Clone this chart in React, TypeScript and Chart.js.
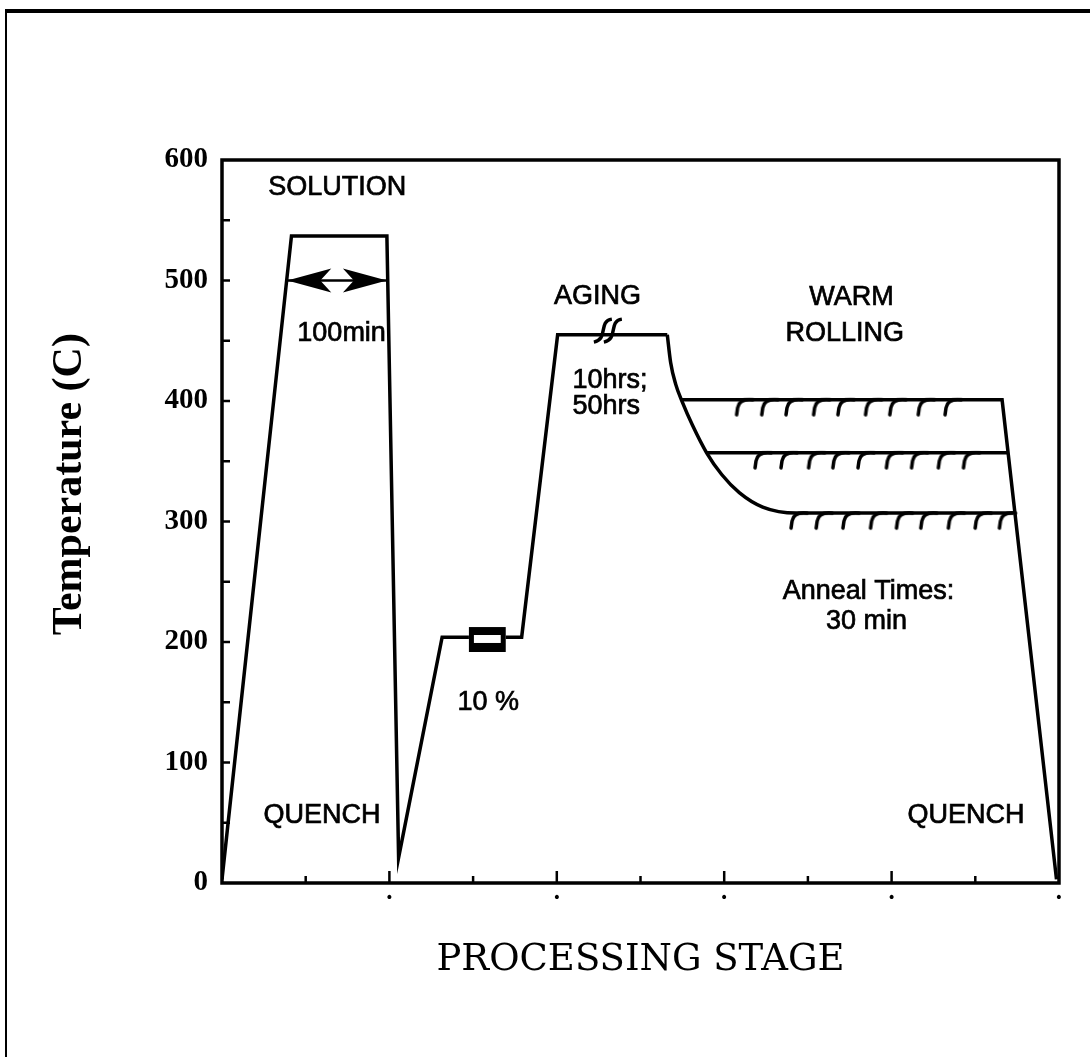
import React, { useEffect, useRef } from 'react';
import { Chart, registerables } from 'chart.js';

Chart.register(...registerables);

// ---- Data (x = processing stage units, y = temperature °C) ----
const solutionPathX = [0.0, 0.83, 1.97, 2.11, 2.63, 2.95];
const solutionPathY = [3, 537, 537, 21, 204, 204];

const agingPathX = [3.39, 3.58, 4.01, 5.32];
const agingPathY = [204, 204, 455, 455];

const coolingCurveX = [5.32, 5.36, 5.42, 5.5, 5.62, 5.79, 5.97, 6.18, 6.46, 6.86, 9.45];
const coolingCurveY = [455, 432, 414, 399, 380, 357, 339, 324, 312, 307, 307];

const rolling400X = [5.49, 9.32, 9.97];
const rolling400Y = [401, 401, 3];

const rolling355X = [5.79, 9.39];
const rolling355Y = [357, 357];

const hooks400X = [6.22, 6.52, 6.81, 7.14, 7.43, 7.76, 8.05, 8.39, 8.71];
const hooks355X = [6.44, 6.75, 7.08, 7.37, 7.67, 8.01, 8.31, 8.63, 8.93];
const hooks307X = [6.87, 7.17, 7.49, 7.82, 8.13, 8.42, 8.75, 9.07, 9.36];
const hookLevels = [401, 357, 307];

const solutionArrowX = [0.78, 1.97];
const solutionArrowY = 500;

const deformBoxX = [2.95, 3.39];
const deformBoxY = [191.7, 212.4];
const deformBoxSlotY = [199.2, 205.8];

const agingBreakX = 4.61;
const agingBreakY = 458;

const yTickLabels = [0, 100, 200, 300, 400, 500, 600];
const xDotTicks = [2, 4, 6, 8, 10];

const labelTexts = ['SOLUTION', '100min', 'AGING', '10hrs;', '50hrs', 'WARM', 'ROLLING', 'Anneal Times:', '30 min', '10 %', 'QUENCH', 'QUENCH'];
const labelX = [1.376, 0.9, 4.486, 4.187, 4.187, 7.52, 7.44, 6.7, 7.7, 3.18, 1.196, 8.89];
const labelY = [577, 455.6, 487, 416.6, 395, 486, 455.6, 242, 217, 150, 56, 56];
const labelAlign: CanvasTextAlign[] = ['center', 'left', 'center', 'left', 'left', 'center', 'center', 'left', 'center', 'center', 'center', 'center'];

const xTitle = 'PROCESSING STAGE';
const yTitle = 'Temperature (C)';
const yTitleCenterValue = 331;

const pts = (xs: number[], ys: number[]) => xs.map((x, i) => ({ x, y: ys[i] }));

function makeHookCanvas() {
  const c = document.createElement('canvas');
  c.width = 28;
  c.height = 40;
  const g = c.getContext('2d')!;
  g.strokeStyle = '#000';
  g.lineWidth = 3.5;
  g.lineCap = 'round';
  g.lineJoin = 'round';
  g.beginPath();
  g.moveTo(24, 20);
  g.bezierCurveTo(15, 19, 10, 22, 9, 28);
  g.lineTo(8, 35);
  g.stroke();
  return c;
}

const decorPlugin = {
  id: 'decor',
  afterDatasetsDraw(chart: any) {
    const { ctx, chartArea: a, scales } = chart;
    const xs = scales.x;
    const ys = scales.y;
    const px = (v: number) => xs.getPixelForValue(v);
    const py = (v: number) => ys.getPixelForValue(v);
    ctx.save();
    ctx.strokeStyle = '#000';
    ctx.fillStyle = '#000';

    // plot frame
    ctx.lineWidth = 3.5;
    ctx.strokeRect(a.left, a.top, a.right - a.left, a.bottom - a.top);

    // inward ticks
    ctx.lineWidth = 2.5;
    for (let v = 50; v < 600; v += 50) {
      ctx.beginPath();
      ctx.moveTo(a.left, py(v));
      ctx.lineTo(a.left + 8, py(v));
      ctx.stroke();
    }
    for (let v = 1; v < 10; v++) {
      const len = v % 2 === 0 ? 12 : 7;
      ctx.beginPath();
      ctx.moveTo(px(v), a.bottom);
      ctx.lineTo(px(v), a.bottom - len);
      ctx.stroke();
    }

    // double arrow
    const ax0 = px(solutionArrowX[0]);
    const ax1 = px(solutionArrowX[1]);
    const ay = py(solutionArrowY);
    ctx.lineWidth = 2.5;
    ctx.beginPath();
    ctx.moveTo(ax0, ay);
    ctx.lineTo(ax1, ay);
    ctx.stroke();
    const head = (tip: number, dir: number) => {
      ctx.beginPath();
      ctx.moveTo(tip, ay);
      ctx.lineTo(tip + dir * 44, ay - 12);
      ctx.lineTo(tip + dir * 33, ay);
      ctx.lineTo(tip + dir * 44, ay + 12);
      ctx.closePath();
      ctx.fill();
    };
    head(ax0, 1);
    head(ax1, -1);

    // deformation box
    const bx0 = px(deformBoxX[0]);
    const bx1 = px(deformBoxX[1]);
    const by0 = py(deformBoxY[1]);
    const by1 = py(deformBoxY[0]);
    ctx.fillRect(bx0, by0, bx1 - bx0, by1 - by0);
    ctx.fillStyle = '#fff';
    ctx.fillRect(bx0 + 5, py(deformBoxSlotY[1]), bx1 - bx0 - 10, py(deformBoxSlotY[0]) - py(deformBoxSlotY[1]));
    ctx.fillStyle = '#000';

    // aging break squiggle
    const sx = px(agingBreakX);
    const sy = py(agingBreakY);
    ctx.lineWidth = 3.5;
    for (const off of [-5, 5]) {
      ctx.beginPath();
      ctx.moveTo(sx + off + 9, sy - 12);
      ctx.bezierCurveTo(sx + off - 5, sy - 10, sx + off + 6, sy + 8, sx + off - 9, sy + 11);
      ctx.stroke();
    }

    // annotations
    ctx.font = '27px "Liberation Sans", Arial, sans-serif';
    ctx.textBaseline = 'middle';
    ctx.lineWidth = 0.7;
    labelTexts.forEach((t, i) => {
      ctx.textAlign = labelAlign[i];
      ctx.fillText(t, px(labelX[i]), py(labelY[i]));
      ctx.strokeText(t, px(labelX[i]), py(labelY[i]));
    });

    // y axis title
    ctx.save();
    ctx.translate(70, py(yTitleCenterValue));
    ctx.rotate(-Math.PI / 2);
    ctx.font = 'bold 42px "Liberation Serif", "Times New Roman", serif';
    ctx.textAlign = 'center';
    ctx.textBaseline = 'middle';
    ctx.fillText(yTitle, 0, 0);
    ctx.restore();

    ctx.restore();
  },
};

export default function App() {
  const ref = useRef<HTMLCanvasElement>(null);

  useEffect(() => {
    const canvas = ref.current;
    if (!canvas) return;
    const hook = makeHookCanvas();
    const lineDs = (xs: number[], ys: number[], extra: any = {}) => ({
      data: pts(xs, ys),
      showLine: true,
      borderColor: '#000',
      borderWidth: 3.5,
      pointRadius: 0,
      fill: false,
      ...extra,
    });
    const hookDs = (xs: number[], level: number) => ({
      data: xs.map((x) => ({ x, y: level })),
      showLine: false,
      pointStyle: hook,
      pointRadius: 5,
      borderColor: '#000',
      backgroundColor: '#000',
    });
    const chart = new Chart(canvas, {
      type: 'scatter',
      data: {
        datasets: [
          lineDs(solutionPathX, solutionPathY),
          lineDs(agingPathX, agingPathY),
          lineDs(coolingCurveX, coolingCurveY, { cubicInterpolationMode: 'monotone' }),
          lineDs(rolling400X, rolling400Y),
          lineDs(rolling355X, rolling355Y),
          hookDs(hooks400X, hookLevels[0]),
          hookDs(hooks355X, hookLevels[1]),
          hookDs(hooks307X, hookLevels[2]),
        ] as any,
      },
      options: {
        animation: false,
        responsive: false,
        maintainAspectRatio: false,
        layout: { padding: { top: 160, right: 31, left: 0, bottom: 0 } },
        plugins: { legend: { display: false }, tooltip: { enabled: false } },
        scales: {
          x: {
            type: 'linear',
            min: 0,
            max: 10,
            afterFit: (s: any) => {
              s.height = 174;
            },
            grid: { display: false, drawTicks: false },
            border: { display: false },
            ticks: {
              stepSize: 1,
              autoSkip: false,
              maxRotation: 0,
              padding: 7,
              color: '#000',
              font: { size: 14, family: 'DejaVu Sans' },
              callback: (v: any) => (xDotTicks.includes(Number(v)) ? '•' : ''),
            },
            title: {
              display: true,
              text: xTitle,
              color: '#000',
              font: { family: '"DejaVu Serif", serif', size: 37 },
              padding: { top: 0, bottom: 74 },
            },
          },
          y: {
            type: 'linear',
            min: 0,
            max: 600,
            afterFit: (s: any) => {
              s.width = 222;
            },
            afterBuildTicks: (s: any) => {
              s.ticks = yTickLabels.map((v) => ({ value: v }));
            },
            grid: { display: false, drawTicks: false },
            border: { display: false },
            ticks: {
              padding: 14,
              color: '#000',
              font: { family: '"Liberation Serif", serif', size: 29, weight: 'bold' },
            },
          },
        },
      } as any,
      plugins: [decorPlugin],
    });
    return () => chart.destroy();
  }, []);

  return (
    <div style={{ position: 'fixed', left: 0, top: 0, width: 1090, height: 1057, background: '#fff' }}>
      <div
        style={{
          position: 'absolute',
          left: 5,
          top: 9,
          right: 0,
          bottom: 0,
          borderTop: '4px solid #000',
          borderLeft: '2px solid #000',
        }}
      />
      <canvas
        ref={ref}
        width={1090}
        height={1057}
        style={{ position: 'absolute', left: 0, top: 0, width: 1090, height: 1057 }}
      />
    </div>
  );
}
